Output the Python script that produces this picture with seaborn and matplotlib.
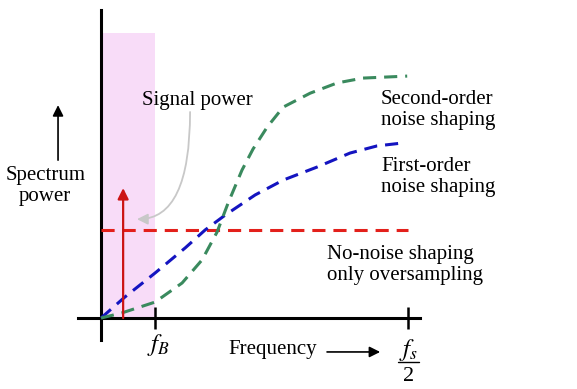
import numpy as np
import pandas as pd
import matplotlib
matplotlib.use("Agg")
import matplotlib.pyplot as plt
import seaborn as sns

# frequency is given as a fraction of fs/2, power in arbitrary units
f_band = 0.176          # f_B
f_half = 1.0            # fs/2
signal_freq = 0.072
signal_power = 0.456
flat_noise = 0.309      # oversampling only

first_freq = [0, 0.078, 0.176, 0.274, 0.339, 0.404, 0.502, 0.593, 0.704, 0.811, 0.899, 0.980]
first_power = [0, 0.074, 0.158, 0.246, 0.309, 0.361, 0.432, 0.484, 0.530, 0.579, 0.604, 0.614]

second_freq = [0, 0.068, 0.176, 0.264, 0.329, 0.378, 0.414, 0.459, 0.495, 0.541, 0.593,
               0.681, 0.769, 0.853, 0.997]
second_power = [0, 0.018, 0.056, 0.123, 0.204, 0.302, 0.404, 0.519, 0.593, 0.670, 0.740,
                0.789, 0.825, 0.842, 0.849]

flat_freq = [0, f_half]
flat_power = [flat_noise, flat_noise]

sns.set_theme(style="white")
plt.rcParams["font.family"] = ["Liberation Serif", "DejaVu Serif"]
plt.rcParams["mathtext.fontset"] = "stix"
plt.rcParams["text.color"] = "black"

fig = plt.figure(figsize=(5.77, 3.89), dpi=100)
ax = fig.add_axes([0, 0, 1, 1])
ax.set_xlim(-0.329, 1.550)
ax.set_ylim(-0.249, 1.116)

# signal band
ax.fill_between([0, f_band], 0, 1.0, color="#f8dcf8", lw=0, zorder=0)

dash = (0, (4.3, 2.6))
sns.lineplot(x=flat_freq, y=flat_power, ax=ax, color="#e3201b", lw=2.2, linestyle=dash, zorder=3)
sns.lineplot(x=first_freq, y=first_power, ax=ax, color="#1414c0", lw=2.2, linestyle=dash, zorder=3)
sns.lineplot(x=second_freq, y=second_power, ax=ax, color="#3a8a5e", lw=2.2, linestyle=dash, zorder=3)

# signal tone
ax.annotate("", xy=(signal_freq, signal_power), xytext=(signal_freq, 0),
            arrowprops=dict(arrowstyle="-|>", color="#cc1414", lw=1.6, mutation_scale=16,
                            shrinkA=0, shrinkB=0), zorder=4)

# axes through the origin
for side in ["top", "right"]:
    ax.spines[side].set_visible(False)
ax.spines["left"].set_position(("data", 0))
ax.spines["bottom"].set_position(("data", 0))
ax.spines["left"].set_bounds(-0.077, 1.081)
ax.spines["bottom"].set_bounds(-0.075, 1.039)
for side in ["left", "bottom"]:
    ax.spines[side].set_linewidth(2.2)
    ax.spines[side].set_color("black")
ax.set_yticks([])
ax.set_xticks([f_band, f_half])
ax.set_xticklabels([])
ax.tick_params(axis="x", direction="inout", length=16, width=1.8, color="black", bottom=True)

fs = 15
ax.text(f_band + 0.012, -0.095, "$f_B$", fontsize=fs + 3, ha="center", va="center")
# fs/2 written as a stacked fraction
ax.text(f_half, -0.112, "$f_s$", fontsize=fs + 3, ha="center", va="center")
ax.plot([f_half - 0.034, f_half + 0.034], [-0.155, -0.155], color="black", lw=1.0)
ax.text(f_half, -0.205, "2", fontsize=fs + 1, ha="center", va="center")

ax.text(0.414, -0.112, "Frequency", fontsize=fs, ha="left", va="center")
ax.annotate("", xy=(0.909, -0.119), xytext=(0.736, -0.119),
            arrowprops=dict(arrowstyle="-|>", color="black", lw=1.2, mutation_scale=16,
                            shrinkA=0, shrinkB=0))

ax.text(-0.182, 0.463, "Spectrum\npower", fontsize=fs, ha="center", va="center", linespacing=1.1)
ax.annotate("", xy=(-0.140, 0.747), xytext=(-0.140, 0.554),
            arrowprops=dict(arrowstyle="-|>", color="black", lw=1.2, mutation_scale=16,
                            shrinkA=0, shrinkB=0))

ax.text(0.313, 0.765, "Signal power", fontsize=fs, ha="center", va="center")
ax.annotate("", xy=(0.117, 0.347), xytext=(0.290, 0.723),
            arrowprops=dict(arrowstyle="-|>", color="#c8c8c8", lw=1.3, mutation_scale=16,
                            shrinkA=0, shrinkB=0,
                            connectionstyle="angle3,angleA=90,angleB=0"))

ax.text(0.912, 0.730, "Second-order\nnoise shaping", fontsize=fs, ha="left", va="center", linespacing=1.1)
ax.text(0.912, 0.495, "First-order\nnoise shaping", fontsize=fs, ha="left", va="center", linespacing=1.1)
ax.text(0.736, 0.186, "No-noise shaping\nonly oversampling", fontsize=fs, ha="left", va="center", linespacing=1.1)

fig.savefig("out.png", dpi=100)
